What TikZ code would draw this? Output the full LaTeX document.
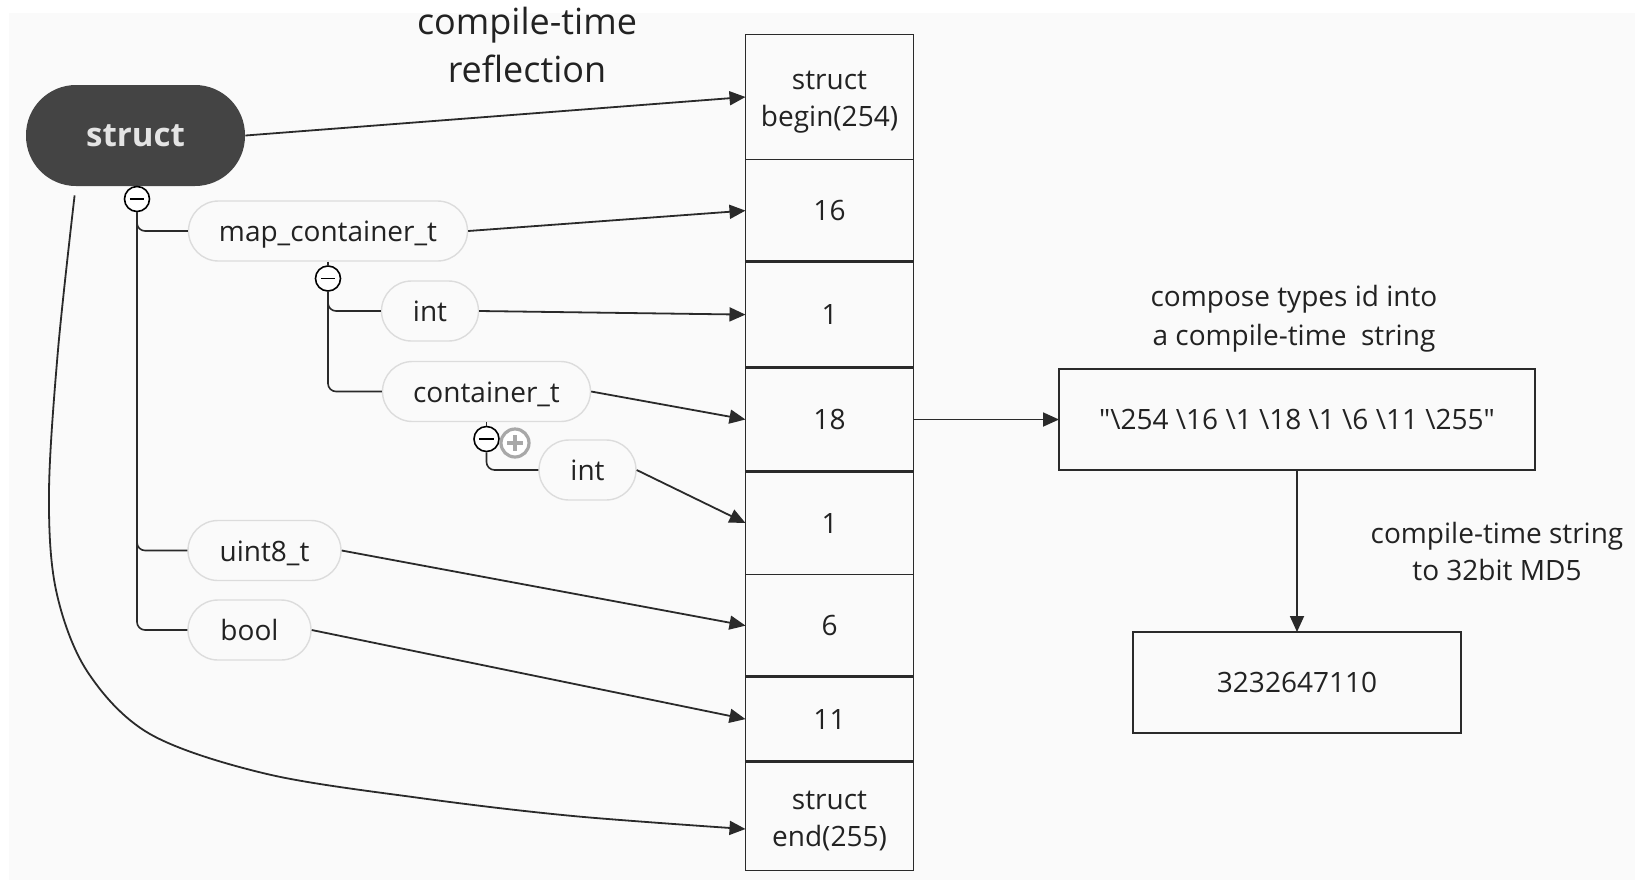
\documentclass[tikz,border=0pt]{standalone}
\usepackage{fontspec}
\setmainfont{Open Sans}[Ligatures=TeXOff]
\usetikzlibrary{arrows.meta}
\definecolor{bgc}{HTML}{FAFAFA}
\definecolor{ink}{HTML}{222222}
\definecolor{linec}{HTML}{2A2A2A}
\definecolor{pillborder}{HTML}{DCDCDC}
\definecolor{rootfill}{HTML}{444444}
\definecolor{roottext}{HTML}{E4E4E4}
\definecolor{plusgray}{HTML}{A8A8A8}
\tikzset{
  txt/.style={font=\fontsize{14}{18.8}\selectfont, text=ink, align=center},
  root/.style={fill=rootfill, rounded corners=25pt, minimum width=109.5pt, minimum height=50.5pt,
    text=roottext, font=\fontsize{16.5}{20}\selectfont\bfseries, inner sep=0pt},
  pill/.style={txt, draw=pillborder, line width=0.7pt, fill=bgc, rounded corners=15pt,
    minimum height=30pt, inner sep=0pt, text height=13.8pt, text depth=3pt},
  cell/.style={draw=linec, line width=0.7pt, minimum width=84pt, inner sep=0pt, outer sep=0pt},
  box/.style={txt, draw=linec, line width=0.7pt, inner sep=0pt, outer sep=0pt},
  sep/.style={draw=linec, line width=1.5pt},
  arr/.style={draw=linec, line width=0.9pt, -{Triangle[length=8pt,width=7pt]}},
  branch/.style={draw=linec, line width=0.8pt, rounded corners=4pt},
  fold/.style={circle, draw=black, line width=0.8pt, fill=white, minimum size=12.5pt, inner sep=0pt,
    path picture={\draw[line width=0.8pt]
      ([xshift=-3.6pt]path picture bounding box.center) -- ([xshift=3.6pt]path picture bounding box.center);}},
  unfold/.style={circle, draw=plusgray, line width=1.6pt, fill=white, minimum size=14pt, inner sep=0pt,
    path picture={\draw[plusgray, line width=1.6pt]
      ([xshift=-3.8pt]path picture bounding box.center) -- ([xshift=3.8pt]path picture bounding box.center)
      ([yshift=-3.8pt]path picture bounding box.center) -- ([yshift=3.8pt]path picture bounding box.center);}},
}
\begin{document}
\begin{tikzpicture}[x=0.5pt, y=-0.5pt]
\useasboundingbox (0,0) rectangle (1635,880);
\fill[bgc] (9,13) rectangle (1635,880);

% heading
\node[txt, font=\fontsize{18}{24}\selectfont] (title) at (527,45) {compile-time\\reflection};

% type tree
\node[root] (struct) at (135.5,135.5) {struct};
\node[fold] (f1) at (137,199) {};
\node[pill, minimum width=139.5pt] (map) at (328,231) {map\_container\_t};
\node[fold] (f2) at (328,278.5) {};
\node[pill, minimum width=48.5pt] (inta) at (430,311) {int};
\node[pill, minimum width=104pt] (cont) at (486.5,391.5) {container\_t};
\node[fold] (f3) at (486.5,439) {};
\node[unfold] (u3) at (515,443) {};
\node[pill, minimum width=48.5pt] (intb) at (587.5,470) {int};
\node[pill, minimum width=76.5pt] (uint) at (264.5,550.5) {uint8\_t};
\node[pill, minimum width=61.5pt] (bool) at (249.5,630) {bool};

\draw[branch] (f1.south) |- (map.west);
\draw[branch] (f1.south) |- (uint.west);
\draw[branch] (f1.south) |- (bool.west);
\draw[branch] (map.south) -- (f2.north);
\draw[branch] (f2.south) |- (inta.west);
\draw[branch] (f2.south) |- (cont.west);
\draw[branch] (cont.south) -- (f3.north);
\draw[branch] (f3.south) |- (intb.west);

% serialized id column
\node[cell, minimum height=62.5pt] (cbegin) at (829.5,97) {};
\node[cell, minimum height=51.1pt] (c16) at (829.5,210.6) {};
\node[cell, minimum height=52.9pt] (c1a) at (829.5,314.6) {};
\node[cell, minimum height=52pt] (c18) at (829.5,419.5) {};
\node[cell, minimum height=51.5pt] (c1b) at (829.5,523) {};
\node[cell, minimum height=51.1pt] (c6) at (829.5,625.6) {};
\node[cell, minimum height=42.4pt] (c11) at (829.5,719.1) {};
\node[cell, minimum height=54.55pt] (cend) at (829.5,816) {};
\node[txt] (tbegin) at ([yshift=-2.5pt]cbegin.center) {struct\\begin(254)};
\node[txt] (t16) at (c16.center) {16};
\node[txt] (t1a) at (c1a.center) {1};
\node[txt] (t18) at (c18.center) {18};
\node[txt] (t1b) at (c1b.center) {1};
\node[txt] (t6) at (c6.center) {6};
\node[txt] (t11) at (c11.center) {11};
\node[txt] (tend) at ([yshift=-2.5pt]cend.center) {struct\\end(255)};
\draw[sep] (c16.south west) -- (c16.south east);
\draw[sep] (c1a.south west) -- (c1a.south east);
\draw[sep] (c18.south west) -- (c18.south east);
\draw[sep] (c6.south west) -- (c6.south east);
\draw[sep] (c11.south west) -- (c11.south east);

% type -> id arrows
\draw[arr] (struct.east) -- (cbegin.west);
\draw[arr] (map.east) -- (c16.west);
\draw[arr] (inta.east) -- (c1a.west);
\draw[arr] (cont.east) -- (c18.west);
\draw[arr] (intb.east) -- (c1b.west);
\draw[arr] (uint.east) -- (c6.west);
\draw[arr] (bool.east) -- (c11.west);
\coordinate (tail) at ([xshift=24.5pt,yshift=-4.5pt]struct.south west);
\coordinate (endin) at ([yshift=-6.5pt]cend.west);
\draw[arr] plot[smooth, tension=0.55] coordinates {(tail) (58,350) (49,492) (56,590) (87,671)
  (150,734) (267,774) (420,798) (573,816) (endin)};

% string and hash
\node[box, minimum width=238pt, minimum height=50.5pt] (str) at (1297,419.5)
  {"\textbackslash 254 \textbackslash 16 \textbackslash 1 \textbackslash 18 \textbackslash 1 \textbackslash 6 \textbackslash 11 \textbackslash 255"};
\node[box, minimum width=164pt, minimum height=50.5pt] (hash) at (1297,682.5) {3232647110};
\draw[arr] (c18.east) -- (str.west);
\draw[arr] (str.south) -- (hash.north);
\node[txt, font=\fontsize{14}{19.5}\selectfont] (lbl1) at (1294,319) {compose types id into\\a compile-time~ string};
\node[txt, font=\fontsize{14}{18.5}\selectfont] (lbl2) at (1497,551.5) {compile-time string\\to 32bit MD5};
\end{tikzpicture}
\end{document}
